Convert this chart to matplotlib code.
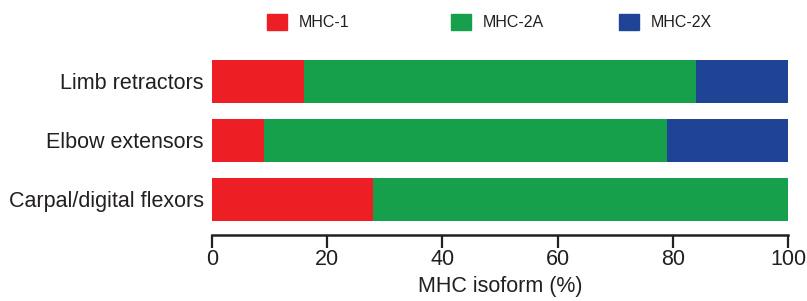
import matplotlib.pyplot as plt
from matplotlib.patches import Patch

plt.rcParams['font.family'] = ['Liberation Sans', 'DejaVu Sans']

muscles = ['Limb retractors', 'Elbow extensors', 'Carpal/digital flexors']
mhc1 = [16, 9, 28]
mhc2a = [68, 70, 72]
mhc2x = [16, 21, 0]
series_names = ['MHC-1', 'MHC-2A', 'MHC-2X']
colors = ['#ED1F24', '#17A04B', '#1F4496']
text_col = '#231F20'

fig = plt.figure(figsize=(8.07, 3.01), dpi=100)
ax = fig.add_axes([0.2627, 0.241, 0.7138, 0.586])

y = range(len(muscles))
left = [0] * len(muscles)
for vals, name, c in zip([mhc1, mhc2a, mhc2x], series_names, colors):
    ax.barh(y, vals, left=left, height=0.73, color=c, label=name)
    left = [l + v for l, v in zip(left, vals)]

ax.set_yticks(list(y))
ax.set_yticklabels(muscles, fontsize=15.5, color=text_col)
ax.set_ylim(2.5, -0.5)
ax.set_xlim(0, 100)
ax.set_xticks([0, 20, 40, 60, 80, 100])
ax.tick_params(axis='y', length=0, pad=6)
ax.tick_params(axis='x', length=9, width=1.6, color=text_col, labelsize=15.5,
               labelcolor=text_col, pad=1)
ax.set_xlabel('MHC isoform (%)', fontsize=15.5, color=text_col, labelpad=4)

for s in ['top', 'right', 'left']:
    ax.spines[s].set_visible(False)
ax.spines['bottom'].set_position(('outward', 5))
ax.spines['bottom'].set_linewidth(1.8)
ax.spines['bottom'].set_color(text_col)

# legend entries placed one by one (spacing in the original is uneven)
leg_x = [0.331, 0.559, 0.767]
for xpos, c, n in zip(leg_x, colors, series_names):
    lg = fig.legend(handles=[Patch(color=c, label=n)], loc='center left',
                    bbox_to_anchor=(xpos, 0.927), frameon=False, fontsize=11.5,
                    handlelength=1.25, handleheight=1.25, handletextpad=0.75,
                    borderpad=0, borderaxespad=0)
    for t in lg.get_texts():
        t.set_color(text_col)

fig.savefig('out.png', dpi=100)
